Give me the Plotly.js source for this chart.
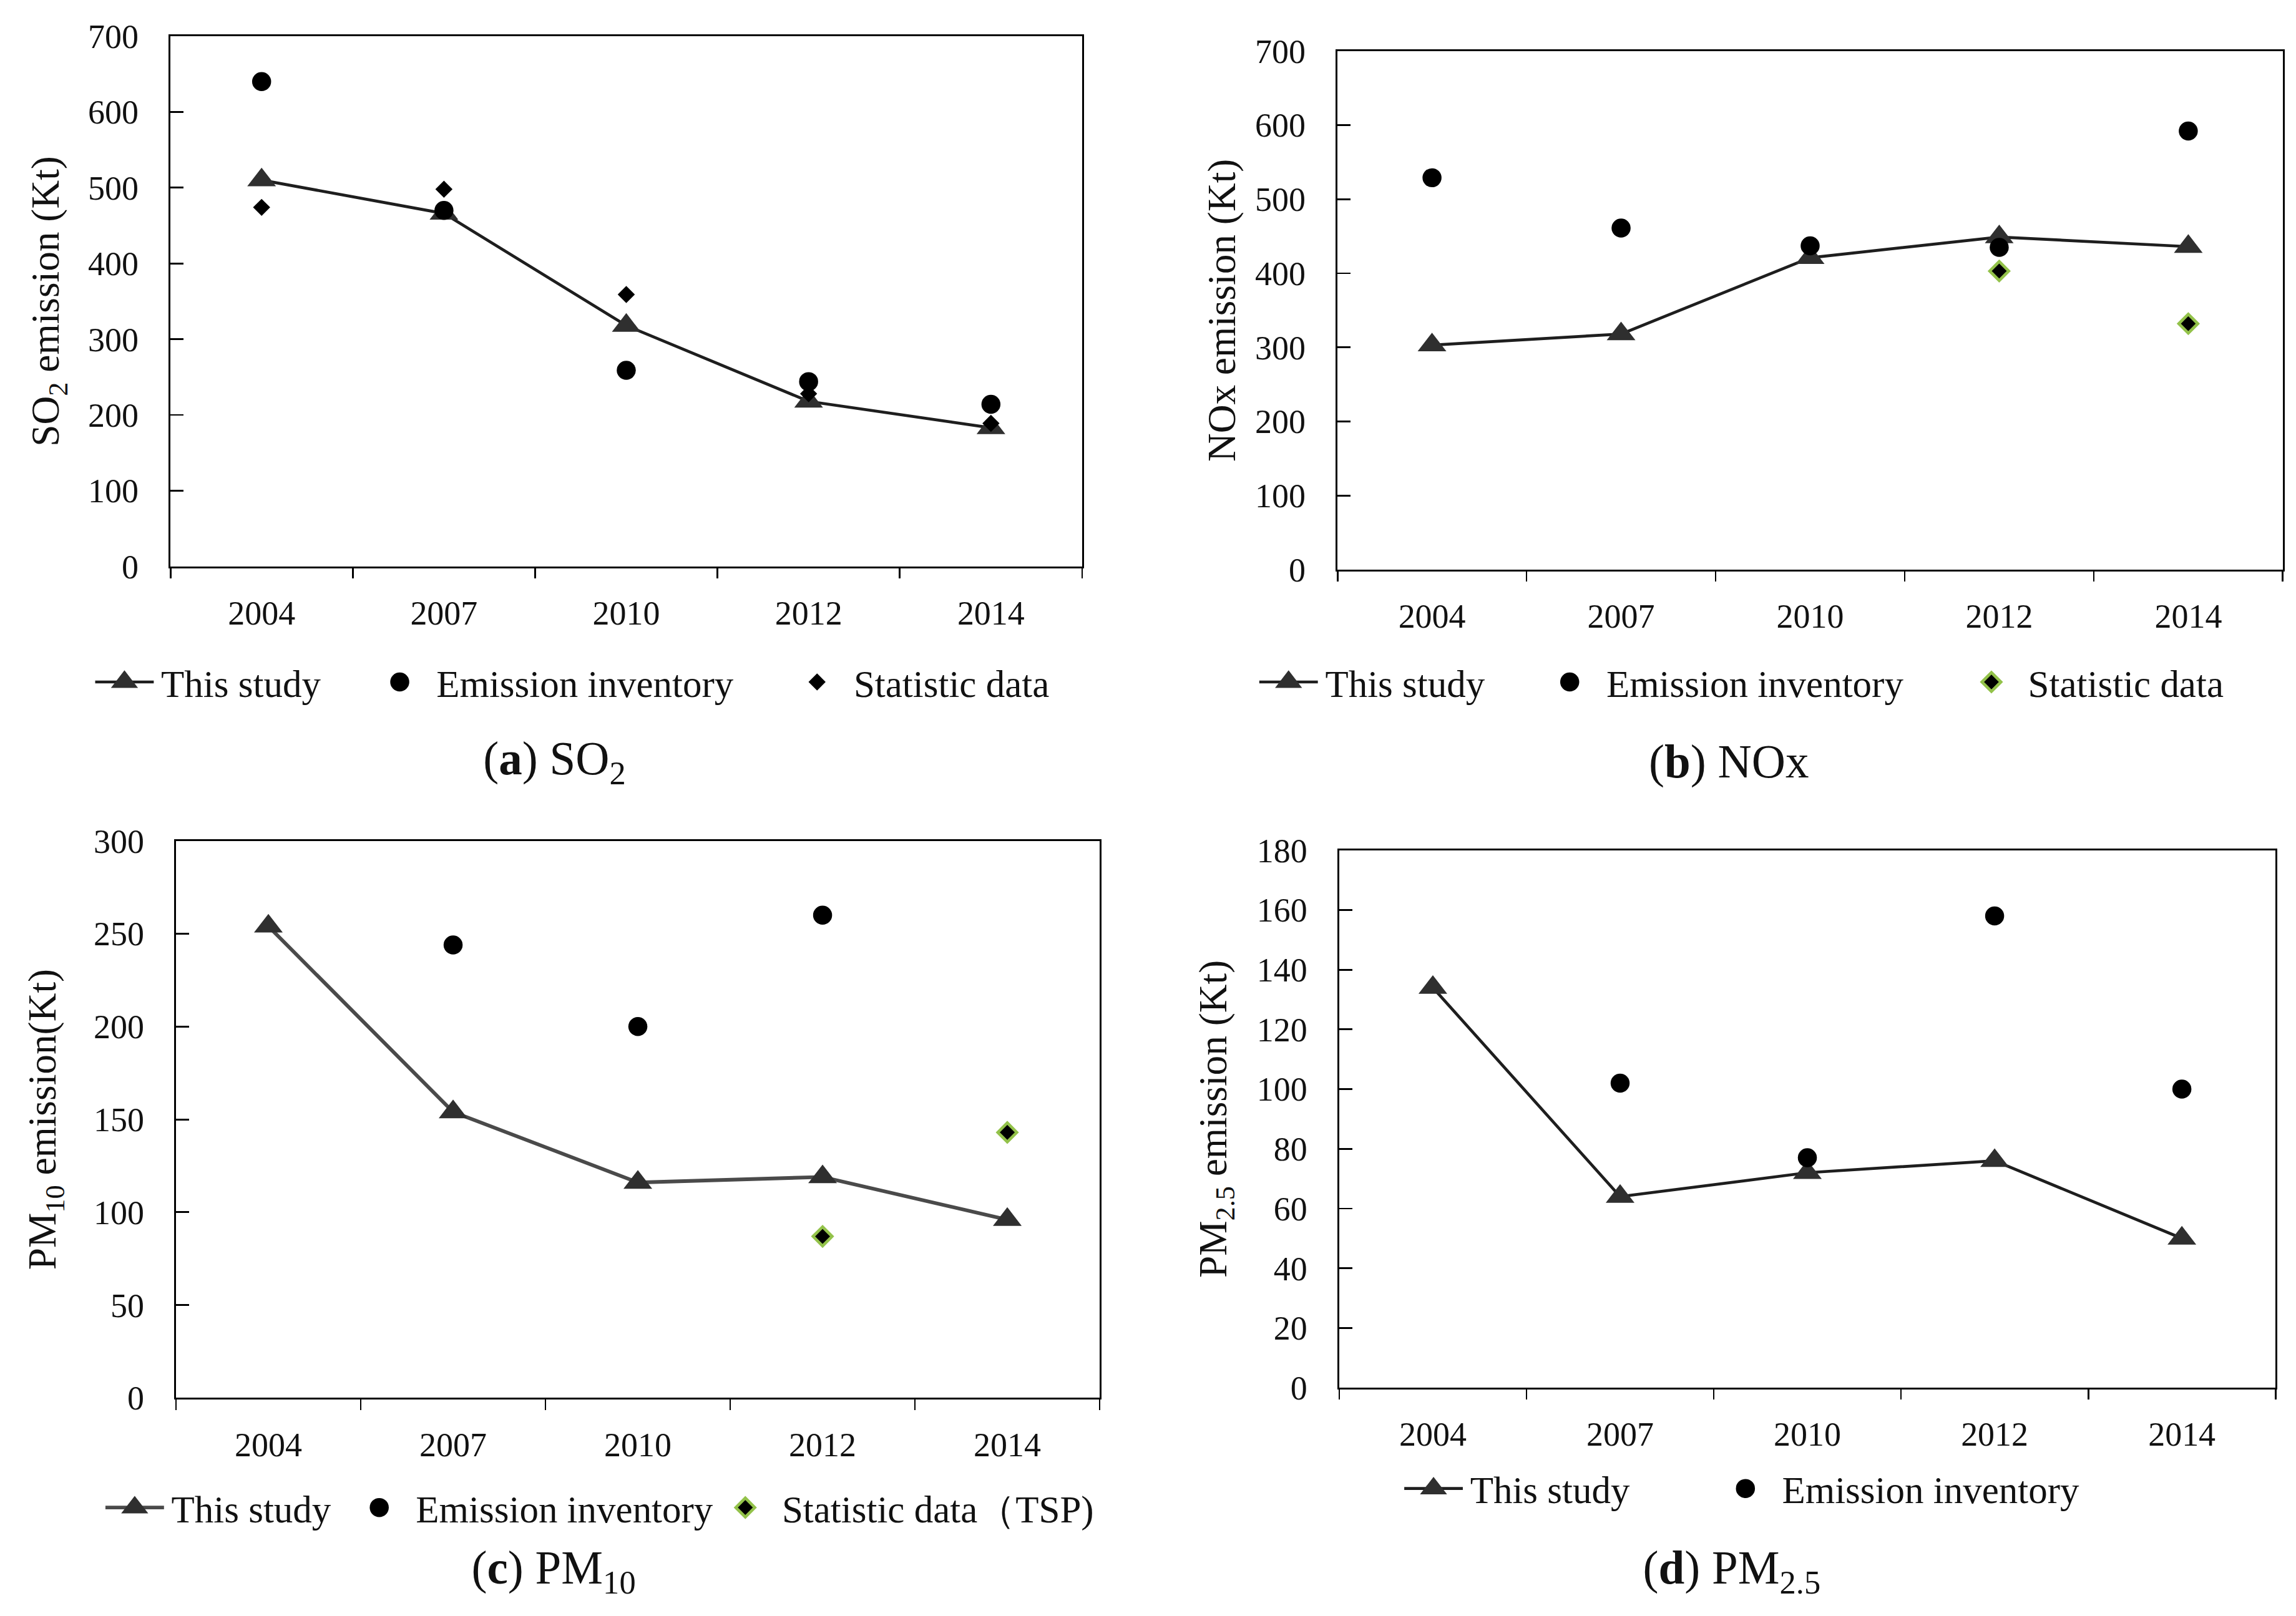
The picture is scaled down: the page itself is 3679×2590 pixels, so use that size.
<!DOCTYPE html>
<html>
<head>
<meta charset="utf-8">
<script src="https://cdn.plot.ly/plotly-3.0.1.min.js"></script>
<style>
html, body { margin: 0; padding: 0; background: #ffffff; }
#outer { position: relative; width: 3679px; height: 2590px; overflow: hidden; background: #ffffff; }
#wrap { position: absolute; left: 0; top: 0; width: 1568px; height: 1104px; transform: scale(2.3463, 2.3460); transform-origin: 0 0; }
#chart { width: 1568px; height: 1104px; }
</style>
</head>
<body>
<div id="outer"><div id="wrap"><div id="chart"></div></div></div>
<script>
// ---------- data ----------
const years = ['2004', '2007', '2010', '2012', '2014'];

const so2Study     = [510, 466, 318, 218, 183];
const so2Inventory = [640, 470, 259, 244, 214];
const so2Statistic = [474, 498, 359, 228, 189];

const noxStudy     = [303, 318, 421, 449, 436];
const noxInventory = [529, 461, 437, 435, 592];
const noxStatistic = [null, null, null, 403, 332];

const pm10Study     = [254, 154, 116, 119, 96];
const pm10Inventory = [null, 244, 200, 260, null];
const pm10Statistic = [null, null, null, 87, 143];

const pm25Study     = [134, 64, 72, 76, 50];
const pm25Inventory = [null, 102, 77, 158, 100];

const W = 1568, H = 1104;
const FONT = 'Liberation Serif, DejaVu Serif, serif';
const TXT = '#111111';
const GREEN = '#93c24a';

function studyTrace(y, xa, ya, leg, lw, lineColor, lineWidth) {
  return {
    type: 'scatter', mode: 'lines+markers', name: 'This study',
    x: years, y: y, xaxis: xa, yaxis: ya, legend: leg, legendwidth: lw,
    line: { color: lineColor || '#1e1e1e', width: lineWidth || 2 },
    marker: { symbol: 'triangle-up', size: 17, color: '#2f2f2f' },
    cliponaxis: false
  };
}
function invTrace(y, xa, ya, leg, lw) {
  const t = {
    type: 'scatter', mode: 'markers', name: 'Emission inventory',
    x: years, y: y, xaxis: xa, yaxis: ya, legend: leg,
    marker: { symbol: 'circle', size: 13, color: '#000000' },
    cliponaxis: false
  };
  if (lw) t.legendwidth = lw;
  return t;
}
function statTrace(y, xa, ya, leg, name, green) {
  return {
    type: 'scatter', mode: 'markers', name: name,
    x: years, y: y, xaxis: xa, yaxis: ya, legend: leg,
    marker: { symbol: 'diamond', size: green ? 10 : 9, color: '#000000',
              line: { color: green ? GREEN : '#000000', width: green ? 2 : 0 } },
    cliponaxis: false
  };
}

const data = [
  studyTrace(so2Study, 'x', 'y', 'legend', 133),
  invTrace(so2Inventory, 'x', 'y', 'legend', 230),
  statTrace(so2Statistic, 'x', 'y', 'legend', 'Statistic data', false),

  studyTrace(noxStudy, 'x2', 'y2', 'legend2', 137),
  invTrace(noxInventory, 'x2', 'y2', 'legend2', 233),
  statTrace(noxStatistic, 'x2', 'y2', 'legend2', 'Statistic data', true),

  studyTrace(pm10Study, 'x3', 'y3', 'legend3', 112, '#4a4a4a', 2.5),
  invTrace(pm10Inventory, 'x3', 'y3', 'legend3', 195),
  statTrace(pm10Statistic, 'x3', 'y3', 'legend3', 'Statistic data（TSP)', true),

  studyTrace(pm25Study, 'x4', 'y4', 'legend4', 158),
  invTrace(pm25Inventory, 'x4', 'y4', 'legend4', null)
];

function xAxis(l, r, anchor) {
  return {
    domain: [l / W, r / W], anchor: anchor, type: 'category',
    categoryorder: 'array', categoryarray: years,
    range: [-0.5, 4.5], tickson: 'boundaries',
    ticks: 'outside', ticklen: 7, tickwidth: 1.2, tickcolor: '#000',
    showline: true, linecolor: '#000', linewidth: 1.2, mirror: true,
    showgrid: false, zeroline: false, ticklabelstandoff: 11,
    tickfont: { family: FONT, size: 23, color: TXT }, fixedrange: true
  };
}
function yAxis(top, bottom, anchor, range, dtick, title, standoff) {
  return {
    domain: [1 - bottom / H, 1 - top / H], anchor: anchor,
    range: range, tick0: 0, dtick: dtick,
    ticks: 'inside', ticklen: 9, tickwidth: 1.2, tickcolor: '#000',
    showline: true, linecolor: '#000', linewidth: 1.2, mirror: true,
    showgrid: false, zeroline: false, ticklabelstandoff: 16,
    tickfont: { family: FONT, size: 23, color: TXT },
    title: { text: title, font: { family: FONT, size: 27, color: TXT }, standoff: standoff },
    fixedrange: true
  };
}
function legendAt(x, y) {
  return {
    x: x / W, y: 1 - y / H, xanchor: 'left', yanchor: 'middle',
    orientation: 'h', traceorder: 'normal', itemwidth: 40,
    font: { family: FONT, size: 26, color: TXT },
    bgcolor: 'rgba(0,0,0,0)', borderwidth: 0
  };
}
function caption(text, x, y) {
  return {
    text: text, xref: 'paper', yref: 'paper', x: x / W, y: 1 - y / H,
    xanchor: 'center', yanchor: 'middle', showarrow: false,
    font: { family: FONT, size: 32, color: TXT }
  };
}

const layout = {
  width: W, height: H,
  margin: { l: 0, r: 0, t: 0, b: 0 },
  font: { family: FONT, color: TXT },
  paper_bgcolor: '#ffffff', plot_bgcolor: '#ffffff',
  showlegend: true,
  xaxis:  xAxis(116.4, 739, 'y'),
  yaxis:  yAxis(24.7, 387, 'x', [0, 700], 100, 'SO<sub>2</sub> emission (Kt)', 11),
  xaxis2: xAxis(913.4, 1559, 'y2'),
  yaxis2: yAxis(34.9, 389.1, 'x2', [0, 700], 100, 'NOx emission (Kt)', 5),
  xaxis3: xAxis(120.2, 751, 'y3'),
  yaxis3: yAxis(574.5, 955, 'x3', [0, 300], 50, 'PM<sub>10</sub> emission(Kt)', 17),
  xaxis4: xAxis(914.6, 1554, 'y4'),
  yaxis4: yAxis(580.9, 948, 'x4', [0, 180], 20, 'PM<sub>2.5</sub> emission (Kt)', 12),
  legend:  legendAt(60, 466),
  legend2: legendAt(855, 466),
  legend3: legendAt(67, 1030),
  legend4: legendAt(954, 1017),
  annotations: [
    caption('(<b>a</b>) SO<sub>2</sub>', 378, 520),
    caption('(<b>b</b>) NOx', 1180, 520),
    caption('(<b>c</b>) PM<sub>10</sub>', 378, 1073),
    caption('(<b>d</b>) PM<sub>2.5</sub>', 1182, 1073)
  ]
};

Plotly.newPlot('chart', data, layout, { staticPlot: true, displayModeBar: false, responsive: false });
</script>
</body>
</html>
